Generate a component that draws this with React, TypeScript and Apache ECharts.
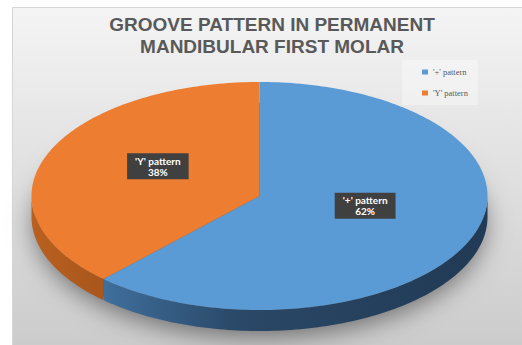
import React, { useEffect, useRef } from "react";
import * as echarts from "echarts";

const categories = ["'+' pattern", "'Y' pattern"];
const values = [62, 38];
const topColors = ["#5b9bd5", "#ed7d31"];
const titleLines = ["GROOVE PATTERN IN PERMANENT", "MANDIBULAR FIRST MOLAR"];

export default function App() {
  const ref = useRef<HTMLDivElement>(null);
  useEffect(() => {
    const chart = echarts.init(ref.current as HTMLDivElement, null, { renderer: "svg" });
    const total = values.reduce((a, b) => a + b, 0);
    const TAU = Math.PI * 2;
    const cx = 259.5, cy = 196, rx = 228, ry = 114, depth = 21;
    const starts: number[] = [];
    let acc = 0;
    values.forEach((v) => { starts.push((acc / total) * TAU); acc += v; });
    const arc = (a: number, b: number, dy: number) => {
      const n = Math.max(2, Math.ceil((b - a) / 0.02));
      const pts: number[][] = [];
      for (let k = 0; k <= n; k++) {
        const t = a + ((b - a) * k) / n;
        pts.push([cx + rx * Math.sin(t), cy - ry * Math.cos(t) + dy]);
      }
      return pts;
    };
    const sideFills = [
      new echarts.graphic.LinearGradient(0, 0, 1, 0, [
        { offset: 0, color: "#3f6f9c" },
        { offset: 0.35, color: "#2a4867" },
        { offset: 1, color: "#213a55" },
      ]),
      new echarts.graphic.LinearGradient(0, 0, 1, 0, [
        { offset: 0, color: "#b9601f" },
        { offset: 1, color: "#a9561c" },
      ]),
    ];
    const series = categories.map((name, i) => ({
      type: "custom",
      name,
      coordinateSystem: "none",
      data: [[values[i]]],
      itemStyle: { color: topColors[i] },
      z: 3,
      renderItem: () => {
        const a0 = starts[i];
        const a1 = starts[i] + (values[i] / total) * TAU;
        const children: any[] = [];
        const s = Math.max(a0, Math.PI / 2);
        const e = Math.min(a1, (3 * Math.PI) / 2);
        if (e > s) {
          const up = arc(s, e, 0);
          const dn = arc(s, e, depth).reverse();
          children.push({
            type: "polygon",
            shape: { points: [...up, ...dn] },
            style: { fill: sideFills[i] },
          });
        }
        children.push({
          type: "polygon",
          shape: { points: [[cx, cy], ...arc(a0, a1, 0)] },
          style: { fill: topColors[i] },
        });
        const mid = (a0 + a1) / 2;
        const f = 0.47;
        const lx = cx + rx * f * Math.sin(mid) + (i === 0 ? 6 : -2);
        const ly = cy - ry * f * Math.cos(mid) - 10;
        children.push({
          type: "text",
          x: lx,
          y: ly,
          style: {
            text: `${name}\n${Math.round((values[i] / total) * 100)}%`,
            fill: "#ffffff",
            fontFamily: "Lato",
            fontWeight: "bold",
            fontSize: 10,
            lineHeight: 11,
            align: "center",
            verticalAlign: "middle",
            backgroundColor: "#404040",
            padding: [2, 8, 2, 8],
            boxShadowColor: "rgba(0,0,0,0.35)",
            boxShadowBlur: 3,
            boxShadowOffsetX: 1,
            boxShadowOffsetY: 1,
          },
        });
        return { type: "group", children };
      },
    }));

    const titleStyle = {
      fontFamily: "Liberation Sans",
      fontWeight: "bold",
      fontSize: 19,
      lineHeight: 22,
      color: "#595959",
    };

    chart.setOption({
      animation: false,
      title: titleLines.map((t, k) => ({
        text: t,
        left: 272,
        textAlign: "center",
        top: 13 + k * 22,
        padding: 0,
        textStyle: titleStyle,
      })),
      legend: {
        orient: "vertical",
        left: 402,
        top: 60,
        padding: [7, 10, 7, 20],
        itemGap: 11,
        itemWidth: 6,
        itemHeight: 5,
        icon: "rect",
        backgroundColor: "rgba(255,255,255,0.35)",
        data: categories,
        textStyle: { fontFamily: "Liberation Serif", fontSize: 8.5, color: "#595959", lineHeight: 10 },
      },
      graphic: [
        {
          type: "rect",
          z: -10,
          shape: { x: 12.5, y: 7.5, width: 520, height: 345 },
          style: {
            fill: new echarts.graphic.LinearGradient(0, 0, 0, 1, [
              { offset: 0, color: "#f4f4f4" },
              { offset: 1, color: "#cbcbcb" },
            ]),
            stroke: "#d6d6d6",
            lineWidth: 1,
          },
        },
        {
          type: "ellipse",
          z: -5,
          shape: { cx: cx, cy: cy + depth - 2, rx: rx - 3, ry: ry - 2 },
          style: {
            fill: "#5a5a5a",
            shadowColor: "rgba(0,0,0,0.5)",
            shadowBlur: 26,
            shadowOffsetY: 9,
          },
        },
      ],
      series,
    });
    return () => chart.dispose();
  }, []);
  return (
    <div
      ref={ref}
      style={{ position: "fixed", left: 0, top: 0, width: 522, height: 345, background: "#ffffff" }}
    />
  );
}
